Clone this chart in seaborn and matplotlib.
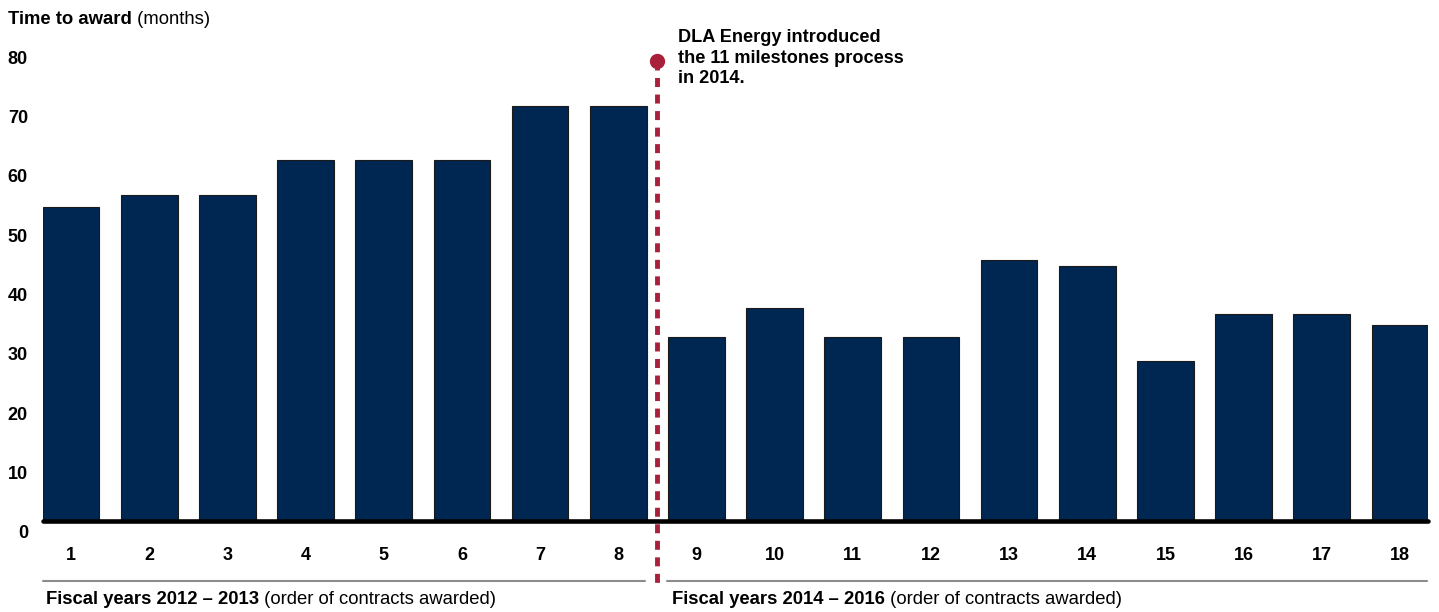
import numpy as np
import pandas as pd
import seaborn as sns
import matplotlib.pyplot as plt
import matplotlib.transforms as mtransforms

# contract order and time to award (months)
contracts = [str(i) for i in range(1, 19)]
months = [53, 55, 55, 61, 61, 61, 70, 70, 31, 36, 31, 31, 44, 43, 27, 35, 35, 33]
yticks = [0, 10, 20, 30, 40, 50, 60, 70, 80]

navy = "#002752"
red = "#a8203a"

sns.set_style("white")
plt.rcParams["font.family"] = ["Liberation Sans", "DejaVu Sans"]
plt.rcParams["text.color"] = "black"
plt.rcParams["xtick.color"] = "black"
plt.rcParams["ytick.color"] = "black"

W, H = 1439, 612
fig = plt.figure(figsize=(W / 100, H / 100), dpi=100)
ax = fig.add_axes([42.7 / W, (H - 521) / H, (1428.3 - 42.7) / W, 474 / H])

df = pd.DataFrame({"contract": contracts, "months": months})
sns.barplot(data=df, x="contract", y="months", color=navy, saturation=1,
            width=0.725, edgecolor="#1a1a1a", linewidth=0.8, ax=ax)

ax.set_xlim(-0.3625, 17.3625)
ax.set_ylim(0, 80)
for s in ax.spines.values():
    s.set_visible(False)
ax.set_xlabel("")
ax.set_ylabel("")

# thick baseline
ax.axhline(0, color="black", lw=3.3, clip_on=False, zorder=5)

# ticks
ax.set_yticks(yticks)
ax.set_yticklabels([str(v) for v in yticks], fontsize=13, fontweight="bold")
ax.tick_params(axis="y", length=0, pad=10.6)
off = mtransforms.ScaledTranslation(0, -10.5 / 100, fig.dpi_scale_trans)
for lbl in ax.get_yticklabels():
    lbl.set_transform(lbl.get_transform() + off)
ax.tick_params(axis="x", length=0, pad=18.5, labelsize=13)
for lbl in ax.get_xticklabels():
    lbl.set_fontweight("bold")

# vertical dotted marker between the two periods
ax.plot([7.5, 7.5], [77.6, -10.5], color=red, lw=3.5,
        linestyle=(0, (1.85, 1.55)), clip_on=False, zorder=6)
ax.plot([7.5], [77.6], "o", color=red, ms=10, clip_on=False, zorder=7)

ax.text(7.77, 1.038, "DLA Energy introduced\nthe 11 milestones process\nin 2014.",
        transform=mtransforms.blended_transform_factory(ax.transData, ax.transAxes),
        ha="left", va="top", fontsize=13.1, fontweight="bold", linespacing=1.28)

# group separator lines
ax.plot([-0.358, 7.34], [-10.1, -10.1], color="#8c8c8c", lw=1.5, clip_on=False)
ax.plot([7.63, 17.35], [-10.1, -10.1], color="#8c8c8c", lw=1.5, clip_on=False)

# title
t1 = fig.text(8 / W, (H - 24) / H, "Time to award", fontsize=13.3,
              fontweight="bold", ha="left", va="baseline")
ax.annotate(" (months)", xy=(1, 0), xycoords=t1, ha="left", va="bottom",
            fontsize=13.3)

# group labels
g1 = fig.text(46 / W, (H - 604) / H, "Fiscal years 2012 \u2013 2013",
              fontsize=13.3, fontweight="bold", ha="left", va="baseline")
ax.annotate(" (order of contracts awarded)", xy=(1, 0), xycoords=g1,
            ha="left", va="bottom", fontsize=13.3)
g2 = fig.text(672 / W, (H - 604) / H, "Fiscal years 2014 \u2013 2016",
              fontsize=13.3, fontweight="bold", ha="left", va="baseline")
ax.annotate(" (order of contracts awarded)", xy=(1, 0), xycoords=g2,
            ha="left", va="bottom", fontsize=13.3)

fig.savefig("out.png", dpi=100)
